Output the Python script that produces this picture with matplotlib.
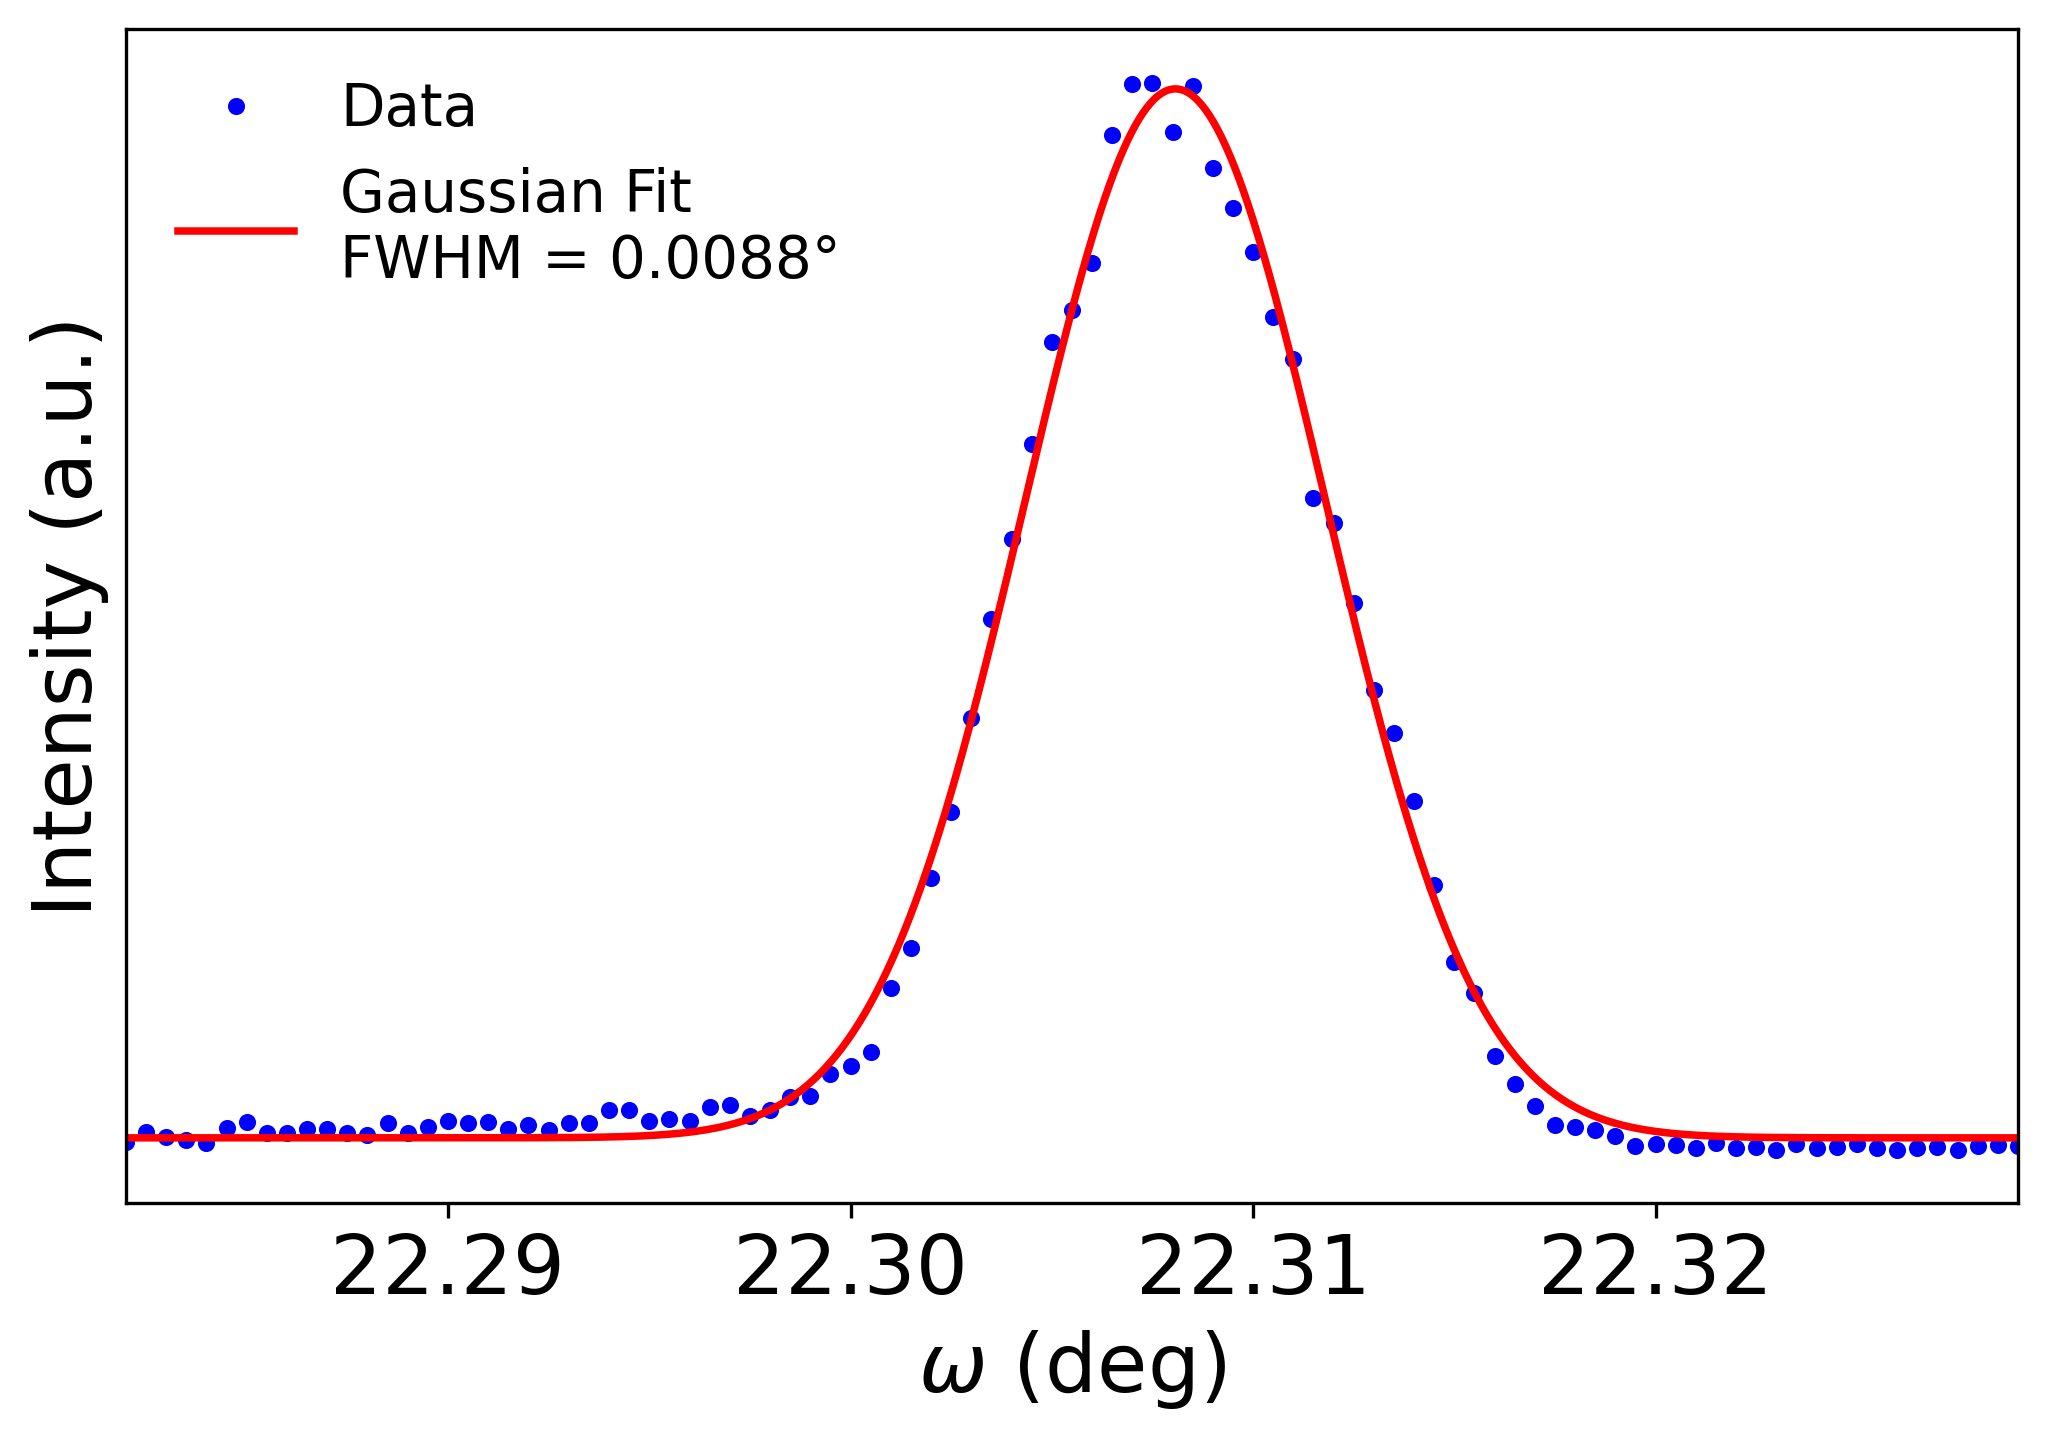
import numpy as np
import matplotlib
matplotlib.use("Agg")
import matplotlib.pyplot as plt
from matplotlib.ticker import FormatStrFormatter

# rocking curve data (omega in deg, intensity normalised)
omega = [
    22.2820, 22.2825, 22.2830, 22.2835, 22.2840, 22.2845, 22.2850, 22.2855, 22.2860, 22.2865,
    22.2870, 22.2875, 22.2880, 22.2885, 22.2890, 22.2895, 22.2900, 22.2905, 22.2910, 22.2915,
    22.2920, 22.2925, 22.2930, 22.2935, 22.2940, 22.2945, 22.2950, 22.2955, 22.2960, 22.2965,
    22.2970, 22.2975, 22.2980, 22.2985, 22.2990, 22.2995, 22.3000, 22.3005, 22.3010, 22.3015,
    22.3020, 22.3025, 22.3030, 22.3035, 22.3040, 22.3045, 22.3050, 22.3055, 22.3060, 22.3065,
    22.3070, 22.3075, 22.3080, 22.3085, 22.3090, 22.3095, 22.3100, 22.3105, 22.3110, 22.3115,
    22.3120, 22.3125, 22.3130, 22.3135, 22.3140, 22.3145, 22.3150, 22.3155, 22.3160, 22.3165,
    22.3170, 22.3175, 22.3180, 22.3185, 22.3190, 22.3195, 22.3200, 22.3205, 22.3210, 22.3215,
    22.3220, 22.3225, 22.3230, 22.3235, 22.3240, 22.3245, 22.3250, 22.3255, 22.3260, 22.3265,
    22.3270, 22.3275, 22.3280, 22.3285, 22.3290,
]
intensity = [
    0.032, 0.041, 0.036, 0.033, 0.031, 0.045, 0.051, 0.040, 0.040, 0.044,
    0.044, 0.040, 0.038, 0.050, 0.040, 0.046, 0.052, 0.050, 0.051, 0.044,
    0.048, 0.043, 0.050, 0.050, 0.062, 0.062, 0.052, 0.054, 0.052, 0.065,
    0.067, 0.056, 0.062, 0.075, 0.076, 0.097, 0.104, 0.118, 0.179, 0.217,
    0.284, 0.347, 0.437, 0.532, 0.608, 0.699, 0.797, 0.827, 0.872, 0.995,
    1.044, 1.045, 0.998, 1.042, 0.963, 0.925, 0.883, 0.821, 0.781, 0.648,
    0.624, 0.547, 0.464, 0.423, 0.358, 0.277, 0.204, 0.174, 0.114, 0.087,
    0.066, 0.048, 0.046, 0.043, 0.037, 0.028, 0.030, 0.029, 0.026, 0.031,
    0.026, 0.027, 0.024, 0.030, 0.026, 0.027, 0.030, 0.026, 0.024, 0.026,
    0.027, 0.024, 0.028, 0.029, 0.028,
]

# gaussian fit parameters
fit_center = 22.30807
fit_fwhm = 0.0088
fit_amp = 1.0035
fit_offset = 0.0355

omega = np.array(omega)
intensity = np.array(intensity)

sigma = fit_fwhm / (2 * np.sqrt(2 * np.log(2)))
x_fit = np.linspace(omega.min(), omega.max(), 1000)
y_fit = fit_offset + fit_amp * np.exp(-(x_fit - fit_center) ** 2 / (2 * sigma ** 2))

fig = plt.figure(figsize=(2048 / 300, 1441 / 300), dpi=300)
ax = fig.add_axes([0.0615, 0.165, 0.9238, 0.8147])

ax.plot(omega, intensity, 'o', color='blue', markersize=3.1, label='Data')
ax.plot(x_fit, y_fit, color='red', linewidth=1.8,
        label='Gaussian Fit\nFWHM = %.4f°' % fit_fwhm)

ax.set_xlim(omega.min(), omega.max())
ax.set_xticks([22.29, 22.30, 22.31, 22.32])
ax.xaxis.set_major_formatter(FormatStrFormatter('%.2f'))
ax.tick_params(axis='x', labelsize=19.7)
ax.set_yticks([])

ax.set_xlabel(r'$\omega$ (deg)', fontsize=19.7)
ax.set_ylabel('Intensity (a.u.)', fontsize=19.7)
ax.legend(loc='upper left', frameon=False, fontsize=13.9)

fig.savefig('out.png', dpi=300)
